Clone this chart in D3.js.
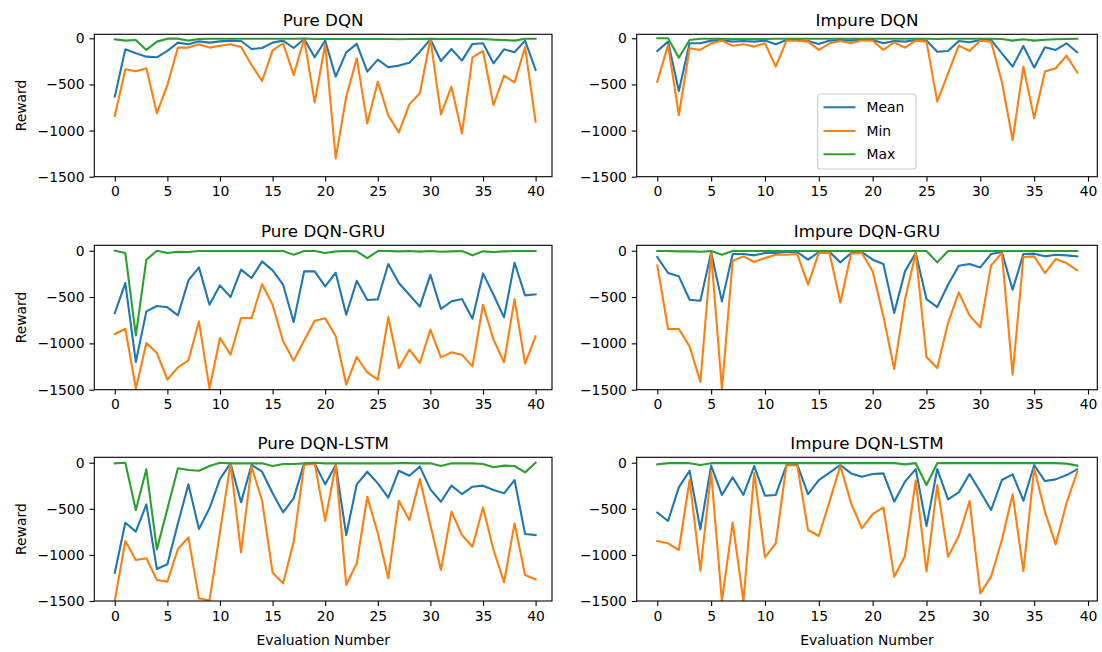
<!DOCTYPE html>
<html>
<head>
<meta charset="utf-8">
<script src="https://cdn.jsdelivr.net/npm/d3@7"></script>
<style>
  body { margin: 0; background: #ffffff; }
  svg { font-family: "DejaVu Sans", sans-serif; }
  .frame { fill: none; stroke: #000; stroke-width: 1.1; }
  .tick line { stroke: #000; stroke-width: 1.1; }
  .series { fill: none; stroke-width: 2.1; stroke-linejoin: round; stroke-linecap: square; }
</style>
</head>
<body>
<div class="container"></div>
<script>
const WIDTH = 1102;
const HEIGHT = 652;

const COL_LEFT = [94.3, 636.7];
const COL_RIGHT = [552, 1097.3];
const X_AT_0 = [114.8, 657.3];
const X_AT_40 = [535.6, 1088];
const ROW_TOP = [34.3, 245.3, 457.3];
const Y_AT_0 = [38.3, 250.7, 462.7];
const Y_AT_MIN = [176.7, 389.7, 601];

const SERIES_NAMES = ["Mean", "Min", "Max"];
const SERIES_COLORS = ["#1f77b4", "#ff7f0e", "#2ca02c"];
const TITLES = ["Pure DQN", "Impure DQN", "Pure DQN-GRU", "Impure DQN-GRU", "Pure DQN-LSTM", "Impure DQN-LSTM"];
const X_TICKS = [0, 5, 10, 15, 20, 25, 30, 35, 40];
const X_TICK_LABELS = ["0", "5", "10", "15", "20", "25", "30", "35", "40"];
const Y_TICKS = [-1500, -1000, -500, 0];
const Y_TICK_LABELS = ["\u22121500", "\u22121000", "\u2212500", "0"];

// Pure DQN
const pureDqnMean = [-632,-119,-163,-199,-206,-137,-47,-65,-33,-47,-33,-25,-29,-116,-105,-47,-25,-105,-7,-206,-25,-416,-152,-61,-361,-231,-314,-296,-264,-145,-11,-246,-116,-242,-61,-54,-271,-119,-152,-25,-343];
const pureDqnMin = [-842,-336,-358,-325,-813,-506,-101,-101,-65,-101,-80,-65,-94,-289,-463,-130,-54,-397,-7,-694,-65,-1301,-632,-217,-922,-470,-838,-1019,-716,-596,-7,-824,-524,-1030,-206,-137,-723,-405,-477,-98,-904];
const pureDqnMax = [-11,-25,-18,-126,-36,-4,-4,-25,-7,-5,-5,-5,-5,-5,-5,-5,-5,-5,-2,-7,-7,-7,-7,-7,-7,-7,-7,-10,-7,-7,-5,-7,-7,-7,-7,-7,-14,-18,-25,-5,-5];

// Impure DQN
const impureDqnMean = [-137,-36,-571,-54,-54,-25,-18,-36,-29,-36,-25,-65,-18,-18,-29,-61,-25,-18,-25,-14,-18,-54,-29,-36,-18,-25,-145,-137,-29,-43,-18,-18,-163,-307,-83,-318,-98,-126,-54,-152];
const impureDqnMin = [-470,-72,-831,-108,-126,-54,-25,-80,-65,-90,-54,-307,-25,-25,-36,-126,-54,-29,-54,-22,-25,-126,-43,-101,-25,-36,-687,-380,-80,-137,-25,-36,-470,-1102,-307,-867,-361,-325,-188,-369];
const impureDqnMax = [0,0,-210,-18,-5,-5,-5,-8,-8,-8,-8,-5,-5,-5,-5,-5,-5,-5,-5,-5,-5,-5,-5,-5,-5,-5,-8,-5,-5,-5,-5,-5,-8,-25,-10,-25,-15,-10,-8,-5];

// Pure DQN-GRU
const pureGruMean = [-673,-349,-1201,-655,-597,-611,-698,-320,-180,-583,-374,-500,-205,-295,-115,-212,-367,-770,-223,-223,-385,-238,-691,-325,-532,-525,-144,-349,-475,-604,-259,-629,-547,-522,-734,-245,-475,-719,-130,-482,-471];
const pureGruMin = [-899,-842,-1489,-996,-1104,-1392,-1259,-1183,-763,-1489,-942,-1122,-727,-727,-360,-583,-978,-1187,-970,-755,-730,-924,-1446,-1147,-1313,-1392,-716,-1266,-1068,-1212,-852,-1151,-1097,-1122,-1248,-583,-960,-1205,-522,-1216,-924];
const pureGruMax = [0,-25,-914,-97,0,-25,-11,-14,-4,-4,-4,-4,-4,-4,-4,-4,-4,-43,-4,-4,-25,-7,-4,-7,-79,-4,-4,-7,-4,-10,-4,-11,-7,-4,-50,-7,-14,-7,-4,-4,-4];

// Impure DQN-GRU
const impureGruMean = [-68,-241,-277,-529,-540,-20,-547,-36,-36,-50,-25,-25,-14,-14,-97,-14,-14,-126,-25,-14,-97,-144,-673,-223,-25,-522,-608,-367,-162,-144,-180,-36,-14,-421,-36,-32,-61,-43,-50,-61];
const impureGruMin = [-158,-845,-845,-1032,-1417,-28,-1495,-108,-61,-122,-79,-43,-43,-36,-367,-25,-25,-558,-32,-25,-223,-709,-1277,-529,-25,-1147,-1266,-781,-450,-701,-827,-158,-25,-1338,-68,-61,-241,-90,-133,-212];
const impureGruMax = [-4,-4,-7,-7,-11,-4,-43,-4,-4,-4,-4,-4,-4,-4,-4,-4,-4,-4,-4,-4,-4,-4,-4,-4,-4,-4,-126,-4,-4,-4,-4,-4,-4,-4,-4,-4,-4,-4,-4,-4];

// Pure DQN-LSTM
const pureLstmMean = [-1193,-651,-748,-452,-1153,-1102,-658,-235,-719,-495,-177,-7,-430,-25,-98,-332,-538,-387,-7,-7,-235,-25,-784,-235,-98,-224,-379,-87,-141,-43,-289,-423,-249,-340,-260,-249,-296,-332,-188,-773,-784];
const pureLstmMin = [-1496,-849,-1055,-1037,-1272,-1290,-936,-810,-1471,-1496,-750,-7,-972,-43,-412,-1193,-1308,-857,-25,-7,-629,-25,-1326,-1091,-369,-766,-1254,-412,-622,-177,-676,-1164,-531,-784,-911,-484,-947,-1297,-658,-1218,-1265];
const pureLstmMax = [-7,0,-513,-72,-940,-500,-61,-80,-87,-36,0,-7,-7,-7,-7,-36,-14,-14,-7,0,-7,-7,-7,-7,-7,-7,-7,-5,-5,-7,-7,-36,-7,-7,-7,-14,-50,-32,-36,-105,0];

// Impure DQN-LSTM
const impureLstmMean = [-542,-632,-267,-87,-723,-32,-350,-159,-350,-36,-358,-350,-25,-20,-340,-188,-108,-25,-116,-152,-123,-116,-423,-206,-69,-687,-69,-397,-322,-123,-314,-513,-188,-126,-412,-25,-199,-181,-134,-72];
const impureLstmMin = [-849,-874,-947,-188,-1171,-108,-1500,-650,-1500,-108,-1026,-874,-25,-30,-730,-795,-420,-32,-441,-712,-557,-484,-1236,-1012,-195,-1182,-242,-1019,-795,-416,-1417,-1236,-838,-343,-1175,-61,-531,-885,-441,-98];
const impureLstmMax = [-18,-5,-5,-5,-25,-5,-5,-5,-5,-5,-5,-5,-5,-5,-5,-5,-5,-5,-5,-5,-5,-5,-5,-18,-5,-242,-5,-5,-5,-5,-5,-5,-5,-5,-5,-5,-5,-5,-10,-32];

const PANEL_DATA = [
    [pureDqnMean, pureDqnMin, pureDqnMax],
    [impureDqnMean, impureDqnMin, impureDqnMax],
    [pureGruMean, pureGruMin, pureGruMax],
    [impureGruMean, impureGruMin, impureGruMax],
    [pureLstmMean, pureLstmMin, pureLstmMax],
    [impureLstmMean, impureLstmMin, impureLstmMax]
];

const TICK_FONT = 13.9;
const TITLE_FONT = 16.7;
const TICK_LEN = 4.9;

var styleAxis = function (g) {
    g.select('.domain').remove();
    g.attr('font-size', TICK_FONT)
        .attr('font-family', '"DejaVu Sans", sans-serif')
        .attr('fill', '#000');
    g.selectAll('.tick text').attr('fill', '#000');
};

var drawPanel = function (svg, k) {
    var col = k % 2, row = Math.floor(k / 2);
    var left = COL_LEFT[col], right = COL_RIGHT[col];
    var top = ROW_TOP[row], bottom = Y_AT_MIN[row];

    var xScale = d3.scaleLinear().domain([0, 40]).range([X_AT_0[col], X_AT_40[col]]);
    var yScale = d3.scaleLinear().domain([-1500, 0]).range([Y_AT_MIN[row], Y_AT_0[row]]);

    var clipId = 'clip' + k;
    svg.append('clipPath').attr('id', clipId)
        .append('rect')
        .attr('x', left).attr('y', top)
        .attr('width', right - left).attr('height', bottom - top);

    var line = d3.line()
        .x(function (d, i) { return xScale(i); })
        .y(function (d) { return yScale(d); });

    var plot = svg.append('g').attr('clip-path', 'url(#' + clipId + ')');
    PANEL_DATA[k].forEach(function (values, s) {
        plot.append('path')
            .attr('d', line(values))
            .attr('stroke', SERIES_COLORS[s])
            .classed('series', true);
    });

    svg.append('rect')
        .attr('x', left).attr('y', top)
        .attr('width', right - left).attr('height', bottom - top)
        .classed('frame', true);

    var xAxis = d3.axisBottom(xScale)
        .tickValues(X_TICKS)
        .tickFormat(function (d, i) { return X_TICK_LABELS[i]; })
        .tickSize(TICK_LEN).tickPadding(4.9).tickSizeOuter(0);
    svg.append('g')
        .attr('transform', 'translate(0,' + bottom + ')')
        .call(xAxis)
        .call(styleAxis);

    var yAxis = d3.axisLeft(yScale)
        .tickValues(Y_TICKS)
        .tickFormat(function (d, i) { return Y_TICK_LABELS[i]; })
        .tickSize(TICK_LEN).tickPadding(4.9).tickSizeOuter(0);
    svg.append('g')
        .attr('transform', 'translate(' + left + ',0)')
        .call(yAxis)
        .call(styleAxis);

    svg.append('text')
        .attr('x', (left + right) / 2)
        .attr('y', top - 8.3)
        .attr('text-anchor', 'middle')
        .attr('font-size', TITLE_FONT)
        .text(TITLES[k]);

    if (col === 0) {
        svg.append('text')
            .attr('transform', 'translate(26,' + ((top + bottom) / 2) + ') rotate(-90)')
            .attr('text-anchor', 'middle')
            .attr('font-size', TICK_FONT)
            .text('Reward');
    }
    if (row === 2) {
        svg.append('text')
            .attr('x', (left + right) / 2)
            .attr('y', 645)
            .attr('text-anchor', 'middle')
            .attr('font-size', TICK_FONT)
            .text('Evaluation Number');
    }
};

var drawLegend = function (svg) {
    var g = svg.append('g');
    g.append('rect')
        .attr('x', 817.7).attr('y', 94)
        .attr('width', 98.3).attr('height', 75)
        .attr('rx', 3)
        .attr('fill', '#fff').attr('fill-opacity', 0.8)
        .attr('stroke', '#cccccc').attr('stroke-width', 1.1);
    var rowsY = [107.3, 131, 154.3];
    SERIES_NAMES.forEach(function (name, i) {
        g.append('line')
            .attr('x1', 823.5).attr('x2', 855.5)
            .attr('y1', rowsY[i]).attr('y2', rowsY[i])
            .attr('stroke', SERIES_COLORS[i]).attr('stroke-width', 2.1);
        g.append('text')
            .attr('x', 866.5).attr('y', rowsY[i] + 5)
            .attr('font-size', TICK_FONT)
            .text(name);
    });
};

window.onload = function () {
    var svg = d3.select('.container').append('svg')
        .attr('width', WIDTH)
        .attr('height', HEIGHT);
    for (var k = 0; k < 6; k++) {
        drawPanel(svg, k);
    }
    drawLegend(svg);
};
</script>
</body>
</html>
